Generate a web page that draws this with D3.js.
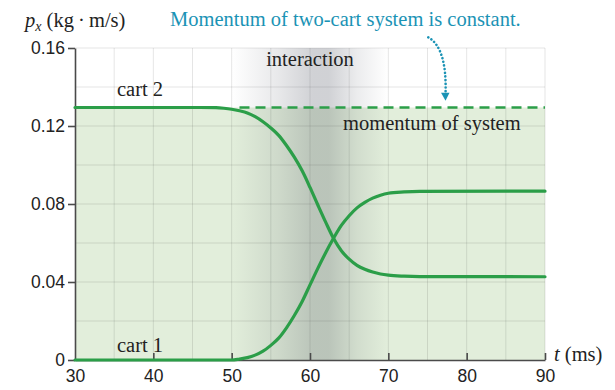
<!DOCTYPE html>
<html>
<head>
<meta charset="utf-8">
<script src="https://cdn.jsdelivr.net/npm/d3@7"></script>
<style>
  body { margin: 0; background: #fff; }
  svg { display: block; }
</style>
</head>
<body>
<script>
'use strict';

// time in ms
let times = [30, 46, 48, 49, 50, 51, 52, 53, 54, 55, 56, 57, 58, 59, 60, 61, 62, 63, 64, 65, 66, 67, 68, 69, 70, 72, 74, 90];
// momentum of each cart (kg m/s)
let cart1 = [0, 0, 0, 0, 0, 0.0005, 0.0012, 0.0025, 0.0045, 0.0075, 0.0112, 0.0165, 0.0228, 0.0300, 0.0385, 0.0470, 0.0550, 0.0624, 0.0690, 0.0740, 0.0780, 0.0808, 0.0830, 0.0845, 0.0855, 0.0862, 0.0865, 0.0866];
let cart2 = [0.1295, 0.1295, 0.1294, 0.1291, 0.1286, 0.1278, 0.1267, 0.1248, 0.1222, 0.1190, 0.1152, 0.1100, 0.1040, 0.0970, 0.0885, 0.0795, 0.0707, 0.0624, 0.0560, 0.0517, 0.0485, 0.0465, 0.0451, 0.0441, 0.0435, 0.0430, 0.0428, 0.0427];
let systemMomentum = 0.1295;
let interaction = [50, 70];

let xTicks = [30, 40, 50, 60, 70, 80, 90];
let yTicks = [0, 0.04, 0.08, 0.12, 0.16];

let green = "#2b9e48";
let teal = "#1b93b5";

let svg = d3.select("body").append("svg")
  .attr("width", 615)
  .attr("height", 390);

let x = d3.scaleLinear().domain([30, 90]).range([75, 545]);
let y = d3.scaleLinear().domain([0, 0.16]).range([360, 48]);

// gradient for the interaction band
let defs = svg.append("defs");
let grad = defs.append("linearGradient").attr("id", "band");
[[0, 0], [0.3, 0.12], [0.52, 0.24], [0.62, 0.24], [0.8, 0.1], [1, 0]].forEach(s => {
  grad.append("stop")
    .attr("offset", s[0])
    .attr("stop-color", "#3c4150")
    .attr("stop-opacity", s[1]);
});

// light green area under the system momentum
svg.append("rect")
  .attr("x", x(30))
  .attr("y", y(systemMomentum))
  .attr("width", x(90) - x(30))
  .attr("height", y(0) - y(systemMomentum))
  .attr("fill", "#e2eedb");

// grid
let grid = svg.append("g").attr("stroke", "#000").attr("stroke-opacity", 0.1).attr("stroke-width", 1);
d3.range(35, 91, 5).forEach(t => {
  grid.append("line")
    .attr("x1", x(t)).attr("x2", x(t))
    .attr("y1", y(0)).attr("y2", y(0.16));
});
d3.range(1, 9).forEach(i => {
  grid.append("line")
    .attr("x1", x(30)).attr("x2", x(90))
    .attr("y1", y(i * 0.02)).attr("y2", y(i * 0.02));
});

// interaction band
svg.append("rect")
  .attr("x", x(interaction[0]))
  .attr("y", y(0.16))
  .attr("width", x(interaction[1]) - x(interaction[0]))
  .attr("height", y(0) - y(0.16))
  .attr("fill", "url(#band)");

// axes
let yAxis = d3.axisLeft(y)
  .tickValues(yTicks)
  .tickSizeInner(7)
  .tickSizeOuter(0)
  .tickPadding(3)
  .tickFormat(d => d === 0 ? "0" : d3.format(".2f")(d));
let gy = svg.append("g")
  .attr("transform", "translate(" + x(30) + ",0)")
  .call(yAxis);

let xAxis = d3.axisBottom(x)
  .tickValues(xTicks)
  .tickSizeInner(-7)
  .tickSizeOuter(0)
  .tickPadding(10);
let gx = svg.append("g")
  .attr("transform", "translate(0," + y(0) + ")")
  .call(xAxis);

[gx, gy].forEach(g => {
  g.selectAll("path, line").attr("stroke", "#4a4a4a").attr("stroke-width", 1.6);
  g.selectAll("text")
    .attr("fill", "#222")
    .style("font-family", "'Liberation Sans', Arial, sans-serif")
    .style("font-size", "17.5px");
});
gx.select(".tick line").remove();

// system momentum dashed line
svg.append("line")
  .attr("x1", x(51)).attr("x2", x(90))
  .attr("y1", y(systemMomentum)).attr("y2", y(systemMomentum))
  .attr("stroke", green)
  .attr("stroke-width", 2.6)
  .attr("stroke-dasharray", "10,6");

// cart curves
let line = d3.line()
  .x(d => x(d[0]))
  .y(d => y(d[1]))
  .curve(d3.curveMonotoneX);

[cart1, cart2].forEach(series => {
  svg.append("path")
    .datum(times.map((t, i) => [t, series[i]]))
    .attr("d", line)
    .attr("fill", "none")
    .attr("stroke", green)
    .attr("stroke-width", 3.2)
    .attr("stroke-linecap", "round");
});

// labels
let serif = "'Liberation Serif', 'Times New Roman', serif";
let fs = "20.5px";
function label(txt, px, py, anchor) {
  return svg.append("text")
    .attr("x", px).attr("y", py)
    .attr("text-anchor", anchor || "start")
    .style("font-family", serif)
    .style("font-size", fs)
    .attr("fill", "#222")
    .text(txt);
}
label("cart 2", 117, 96);
label("cart 1", 117, 352);
label("interaction", x(60), 66, "middle");
label("momentum of system", 343, 130);

let tl = svg.append("text")
  .attr("x", 554).attr("y", 361)
  .style("font-family", serif)
  .style("font-size", fs)
  .attr("fill", "#222");
tl.append("tspan").style("font-style", "italic").text("t");
tl.append("tspan").text(" (ms)");

let pl = svg.append("text")
  .attr("x", 25).attr("y", 27)
  .style("font-family", serif)
  .style("font-size", fs)
  .attr("fill", "#222");
pl.append("tspan").style("font-style", "italic").text("p");
pl.append("tspan").style("font-style", "italic").style("font-size", "14px").attr("dy", 4).text("x");
pl.append("tspan").attr("dy", -4).text(" (kg\u2009\u00b7\u2009m/s)");

svg.append("text")
  .attr("x", 170).attr("y", 26)
  .style("font-family", serif)
  .style("font-size", fs)
  .attr("fill", teal)
  .text("Momentum of two-cart system is constant.");

// dotted arrow
let a0 = [x(75.1), y(0.1655)];
let a1 = [x(77.3), y(0.1365)];
svg.append("path")
  .attr("d", "M" + a0 + "Q" + [x(77.5), y(0.160)] + " " + a1)
  .attr("fill", "none")
  .attr("stroke", teal)
  .attr("stroke-width", 2.6)
  .attr("stroke-linecap", "round")
  .attr("stroke-dasharray", "0.1,3.6");
svg.append("path")
  .attr("d", "M" + [a1[0] - 4.5, a1[1] - 1] + "L" + [a1[0] + 4, a1[1] - 1] + "L" + [a1[0], a1[1] + 7] + "Z")
  .attr("fill", teal);
</script>
</body>
</html>
